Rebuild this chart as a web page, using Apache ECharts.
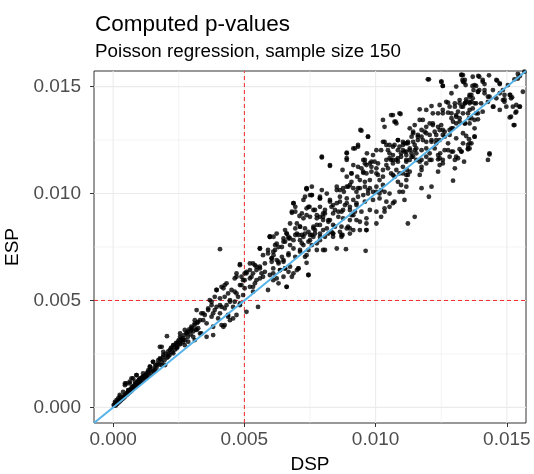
<!DOCTYPE html>
<html>
<head>
<meta charset="utf-8">
<script src="https://cdn.jsdelivr.net/npm/echarts@6/dist/echarts.min.js"></script>
<style>
  html, body { margin: 0; padding: 0; background: #ffffff; }
  #chart { width: 534px; height: 474px; }
</style>
</head>
<body>
<div id="chart"></div>
<script>
// DSP / ESP p-value pairs, [DSP, ESP]
const lowerCloud = [
  [0.00005,0.00008],[0.00008,0.00012],[0.0001,0.00009],[0.00012,0.00018],[0.00015,0.00016],[0.00018,0.00025],[0.0002,0.00022],[0.00022,0.0003],[0.00025,0.00027],[0.00027,0.00036],
  [0.0003,0.00033],[0.00032,0.00041],[0.00035,0.00039],[0.00037,0.00047],[0.0004,0.00044],[0.00042,0.00055],[0.00045,0.0005],[0.00048,0.00061],[0.0005,0.00057],[0.00052,0.00068],
  [0.00055,0.00062],[0.00058,0.00074],[0.0006,0.00069],[0.00062,0.0008],[0.00065,0.00072],[0.00068,0.00088],[0.0007,0.00079],[0.00072,0.00095],[0.00075,0.00086],[0.00078,0.00099],
  [0.0008,0.00093],[0.00083,0.00108],[0.00085,0.00097],[0.00088,0.00112],[0.0009,0.00104],[0.00093,0.00121],[0.00095,0.0011],[0.00098,0.00128],[0.001,0.00116],[0.00103,0.00133],
  [0.00106,0.00122],[0.0011,0.0014],[0.00113,0.00129],[0.00117,0.00147],[0.0012,0.00136],[0.00125,0.00152],[0.00128,0.00142],[0.00132,0.00165],[0.00136,0.0015],[0.0014,0.00172],
  [0.00145,0.0016],[0.0015,0.0018],[0.00155,0.00168],[0.0016,0.00195],[0.00165,0.00185],[0.0017,0.00205],[0.00175,0.002],[0.0018,0.00225],[0.00185,0.0021],[0.0019,0.00235],
  [0.00195,0.0022],[0.002,0.0025],[0.00205,0.00232],[0.0021,0.00262],[0.00215,0.00245],[0.0022,0.00278],[0.00225,0.00258],[0.0023,0.0029],[0.00235,0.0027],[0.0024,0.00302],
  [0.00245,0.00282],[0.0025,0.00315],[0.00255,0.00295],[0.0026,0.00322],[0.00265,0.00305],[0.0027,0.00338],[0.00275,0.00315],[0.0028,0.0035],[0.00285,0.0033],[0.0029,0.00365],
  [0.00295,0.00342],[0.003,0.00372],[0.00305,0.00355],[0.0031,0.00385],[0.00315,0.00365],[0.0032,0.00395],
  [0.00205,0.00333],[0.00255,0.00346],[0.00264,0.00315],[0.00242,0.00299],[0.00273,0.00291],[0.00223,0.00276],[0.00178,0.00283],[0.00191,0.00245],[0.0021,0.00237],[0.00172,0.00221],
  [0.00152,0.00213],[0.0014,0.0019],[0.00159,0.00174],[0.00185,0.00198],[0.00127,0.00159],[0.00089,0.00151],[0.00101,0.00136],[0.0007,0.00136],[0.00045,0.00112],[0.00063,0.00112],
  [0.00076,0.00096],[0.00058,0.00081],[0.00038,0.00073],[0.00025,0.00058],[0.00019,0.00042],[0.00007,0.00026],[0.00002,0.00011],[0.0005,0.00058],[0.00083,0.0012],[0.00114,0.00143],
  [0.00198,0.00198],[0.00255,0.0033],[0.00267,0.00315],[0.00248,0.00307],[0.00229,0.00291],[0.00242,0.00276],[0.00216,0.00268],[0.00185,0.00283],[0.00191,0.0026],[0.0021,0.00245],
  [0.00229,0.00253],[0.00178,0.00229],[0.00152,0.00213],[0.00165,0.00198],[0.0014,0.0019],[0.00134,0.00174],[0.00114,0.00159],[0.00089,0.00151],[0.00076,0.00136],[0.0005,0.00112],
  [0.00045,0.00104],[0.00063,0.0012],[0.00058,0.00081],[0.00025,0.0005],[0.00013,0.00034],[0.00007,0.00019],[0.00101,0.0012],[0.00127,0.00143],[0.00273,0.00362],[0.00286,0.00354]
];

const middleCloud = [
  [0.00407,0.0074],[0.00597,0.00798],[0.00559,0.00743],[0.00617,0.00759],[0.0059,0.0072],[0.00604,0.00697],[0.00623,0.00689],[0.00578,0.00673],[0.00559,0.00658],[0.00565,0.00627],
  [0.00546,0.00642],[0.00533,0.00673],[0.00521,0.00642],[0.00483,0.00665],[0.00508,0.00627],[0.00527,0.00611],[0.00546,0.00595],[0.00571,0.00611],[0.0059,0.00549],[0.0061,0.00627],
  [0.0063,0.0058],[0.0047,0.00627],[0.00463,0.00603],[0.00495,0.00595],[0.00483,0.00572],[0.00501,0.00557],[0.00521,0.00564],[0.00533,0.00541],[0.00495,0.00525],[0.0047,0.00533],
  [0.00451,0.00549],[0.00432,0.0058],[0.0042,0.00557],[0.00394,0.00549],[0.00387,0.00517],[0.00407,0.0051],[0.00425,0.00517],[0.00445,0.00502],[0.00463,0.00494],[0.00483,0.00478],
  [0.00432,0.00478],[0.00413,0.0047],[0.00394,0.0047],[0.00375,0.00478],[0.00368,0.00502],[0.00362,0.00455],[0.00381,0.0044],[0.00407,0.0044],[0.00438,0.00424],[0.00457,0.00416],
  [0.00425,0.00385],[0.0042,0.00377],[0.00381,0.00338],[0.00349,0.00432],[0.00336,0.0044],[0.00318,0.00455],[0.00343,0.00408],[0.00324,0.004],[0.00311,0.00408],[0.00298,0.00377],
  [0.00318,0.00362],[0.00331,0.00346],[0.00305,0.0033],
  [0.00483,0.0067],[0.00546,0.00658],[0.0047,0.00611],[0.00501,0.00627],[0.00521,0.00603],[0.00425,0.00572],[0.00413,0.00564],[0.00394,0.00549],[0.00438,0.00533],[0.00463,0.00541],
  [0.00489,0.00572],[0.00533,0.00564],[0.00476,0.00517],[0.00445,0.00494],[0.00375,0.00494],[0.00407,0.00478],[0.00425,0.00463],[0.00457,0.0047],[0.00483,0.00486],[0.00387,0.00455],
  [0.00362,0.00463],[0.00343,0.0044],[0.00375,0.00424],[0.004,0.00416],[0.00438,0.00432],[0.00445,0.00408],[0.00413,0.00385],[0.00381,0.00377],[0.00356,0.00393],[0.00331,0.00408],
  [0.00311,0.00393],[0.00324,0.0037],[0.00298,0.00362],[0.0028,0.00346],[0.00336,0.00346],[0.00356,0.0033],[0.00267,0.00323],[0.00255,0.00299],[0.00286,0.00307],[0.00311,0.00315],
  [0.00242,0.00283],[0.00552,0.0047],[0.00508,0.00447],[0.0047,0.00432],
  [0.00737,0.0102],[0.00757,0.00993],[0.00725,0.0097],[0.00788,0.00977],[0.00687,0.00955],[0.00694,0.00915],[0.00681,0.0091],[0.00744,0.00938],[0.00737,0.00899],[0.0071,0.00895],
  [0.008,0.00907],[0.00788,0.00891],[0.0082,0.00876],[0.00776,0.00853],[0.00712,0.00845],[0.00597,0.00798],[0.00661,0.00813],[0.00668,0.0079],[0.00687,0.00782],[0.00706,0.00806],
  [0.00731,0.00813],[0.00757,0.00806],[0.00769,0.00829],[0.00744,0.00775],[0.00719,0.00767],[0.00674,0.00759],[0.00649,0.00775],[0.0063,0.0075],[0.0061,0.00728],[0.0059,0.00736],
  [0.00559,0.00743],[0.00571,0.00712],[0.00604,0.00697],[0.0063,0.00681],[0.00649,0.00689],[0.00668,0.00712],[0.00694,0.00704],[0.00712,0.00728],[0.00737,0.00712],[0.00706,0.0065],
  [0.00655,0.0065],[0.00636,0.00642],[0.0061,0.0065],[0.00578,0.00634],[0.00559,0.0065],[0.0054,0.00665],[0.00521,0.00673],[0.00533,0.00627],[0.00508,0.00634],[0.00559,0.00603],
  [0.0054,0.0058],[0.00489,0.00611],[0.00501,0.00595],[0.00661,0.00564],[0.00744,0.00619],[0.00807,0.00736],[0.0061,0.00595],[0.00597,0.00619],
  [0.00623,0.00766],[0.00643,0.0075],[0.00655,0.00775],[0.00611,0.00712],[0.00604,0.00681],[0.0063,0.00673],[0.00649,0.00681],[0.00636,0.00642],[0.00655,0.0065],[0.00674,0.00658],
  [0.00668,0.00634],[0.00687,0.00627],[0.007,0.00642],[0.00706,0.0065],[0.00681,0.00611],[0.00649,0.00611],[0.00623,0.00603],[0.00744,0.00619],[0.00661,0.00564],[0.00737,0.00676],
  [0.00731,0.00704],[0.00744,0.00736],[0.00757,0.00759],[0.00763,0.00798],[0.008,0.00736],[0.00807,0.00798],[0.00838,0.00813],[0.00852,0.00743],[0.00887,0.0074],[0.00874,0.00806],
  [0.00962,0.00732],[0.00674,0.0079],[0.00694,0.00806],[0.00712,0.00782],[0.00725,0.00759],[0.00712,0.00736],[0.00687,0.00743],[0.00668,0.0072],[0.00643,0.00704],[0.00617,0.00736],
  [0.00776,0.00767],[0.00788,0.00782],[0.00776,0.00736],[0.0075,0.00782]
];

const upperCloud = [
  [0.00946,0.01294],[0.00971,0.01266],[0.01034,0.01242],[0.01053,0.01227],[0.01085,0.0125],[0.01117,0.01235],[0.00933,0.01227],[0.00915,0.01211],[0.0089,0.01191],[0.00795,0.01172],
  [0.00826,0.01133],[0.0089,0.01165],[0.00953,0.01157],[0.00959,0.01141],[0.00984,0.01149],[0.01009,0.01141],[0.01059,0.01157],[0.01085,0.01149],[0.01097,0.01188],[0.01117,0.0118],
  [0.01041,0.01133],[0.00984,0.01125],[0.00908,0.01094],[0.0089,0.01079],[0.00953,0.01097],[0.01003,0.01094],[0.01028,0.01079],[0.01066,0.01087],[0.01091,0.01094],[0.01117,0.01087],
  [0.00896,0.01032],[0.00876,0.01025],[0.00852,0.01016],[0.00927,0.01008],[0.0094,0.01025],[0.00971,0.01016],[0.01003,0.01008],[0.01021,0.01016],[0.01053,0.01],[0.01091,0.01008],
  [0.01117,0.01032],[0.0111,0.0097],[0.0075,0.00993],[0.00788,0.00977],[0.00826,0.00962],[0.00838,0.00946],[0.00864,0.00962],[0.0089,0.00955],[0.00927,0.00946],[0.00959,0.00962],
  [0.0099,0.0097],[0.01015,0.00977],[0.01041,0.00962],[0.01072,0.00962],[0.00769,0.00923],[0.00807,0.00907],[0.00845,0.00923],[0.0087,0.00915],[0.00902,0.00923],[0.00915,0.00899],
  [0.00946,0.00915],[0.00978,0.00923],[0.01034,0.00931],[0.01053,0.00938],[0.00776,0.00884],[0.008,0.00876],[0.00826,0.00876],[0.00876,0.00884],[0.00902,0.00876],[0.0094,0.00868],
  [0.00965,0.00884],[0.00763,0.00845],[0.00814,0.00837],[0.00845,0.00845],[0.0089,0.00837],[0.00915,0.00829],[0.00965,0.00829],[0.01003,0.0086],[0.00788,0.00813],[0.00838,0.00813],
  [0.0087,0.00806],[0.00902,0.00837],
  [0.01034,0.01312],[0.01028,0.01344],[0.01066,0.01367],[0.01076,0.01336],[0.01095,0.01372],[0.00942,0.01297],[0.00971,0.01266],[0.00933,0.01219],[0.00921,0.01211],[0.0089,0.01188],
  [0.00967,0.01188],[0.00795,0.01169],[0.00826,0.01129],[0.0089,0.01157],[0.00959,0.01157],[0.00965,0.01133],[0.00978,0.01141],[0.00996,0.01149],[0.01003,0.01118],[0.00984,0.01102],
  [0.00965,0.01094],[0.00953,0.01102],[0.0093,0.01079],[0.00908,0.01094],[0.00908,0.01055],[0.0094,0.01063],[0.00959,0.01055],[0.00978,0.01063],[0.01009,0.01087],[0.01015,0.01063],
  [0.01028,0.0104],[0.01003,0.01032],[0.00978,0.01025],[0.00959,0.01032],[0.00933,0.01025],[0.00915,0.01025],[0.00902,0.0104],[0.0089,0.01032],[0.00879,0.01008],[0.00864,0.01016],
  [0.00852,0.01032],[0.00864,0.00985],[0.0089,0.00977],[0.00915,0.0097],[0.00933,0.00985],[0.00953,0.00993],[0.00971,0.01],[0.0099,0.01008],[0.01015,0.01],[0.01034,0.01008],
  [0.00927,0.00955],[0.00902,0.00938],[0.00883,0.00946],[0.00852,0.00955],[0.00832,0.00938],[0.00826,0.0097],[0.00814,0.01],[0.00788,0.00985],[0.00788,0.00938],[0.00807,0.00923],
  [0.00838,0.00907],[0.00858,0.00915],[0.00876,0.00923],[0.00858,0.00891],[0.00908,0.00899],[0.00921,0.00915],[0.00927,0.00876],[0.00965,0.0086],[0.0094,0.00829],[0.00895,0.00845],
  [0.0087,0.00845],[0.00838,0.00853],[0.0082,0.00868],[0.008,0.00891],[0.00776,0.00899],[0.00763,0.00923],[0.00737,0.00931],[0.0075,0.00891],[0.00725,0.00884],[0.00719,0.00907],
  [0.007,0.0086],[0.00712,0.00845],[0.00731,0.00837],[0.00763,0.00837],[0.00788,0.00853],[0.008,0.00829],[0.00832,0.00821],[0.00864,0.00821],[0.00681,0.00915],[0.00687,0.00955],
  [0.00694,0.00938],[0.00731,0.00985],[0.00757,0.00993],[0.00737,0.01025],[0.00748,0.00938],[0.007,0.00813],[0.00661,0.00813],[0.00668,0.00798],[0.00655,0.00829],[0.00611,0.00798],
  [0.00725,0.00798],[0.0075,0.00806],
  [0.00874,0.0111],[0.00915,0.01133],[0.00933,0.01125],[0.00946,0.01118],[0.01003,0.01203],[0.0099,0.0118],[0.01021,0.01203],[0.01041,0.01227],[0.01028,0.01242],[0.01047,0.01203],
  [0.01053,0.01188],[0.01066,0.0118],[0.01085,0.01203],[0.01072,0.01227],[0.01104,0.01227],[0.0113,0.01211],[0.01155,0.01211],[0.01175,0.01157],[0.01193,0.01141],
  [0.00597,0.00798],[0.00694,0.00837],[0.00674,0.0086],[0.00623,0.00813],[0.00649,0.0079],[0.00719,0.00806],[0.00744,0.00821],[0.00769,0.00813],[0.00788,0.00798],[0.0082,0.00813],
  [0.00838,0.00798],[0.0087,0.00798],[0.00902,0.00813],[0.00965,0.00829],[0.01021,0.00891],[0.01034,0.00915],[0.01003,0.00915],[0.01066,0.00955],[0.01104,0.01008],[0.00795,0.01016],
  [0.00757,0.01032],[0.00737,0.01023]
];

const topCloud = [
  [0.01203,0.01534],[0.0125,0.01523],[0.01256,0.01503],[0.01327,0.01554],[0.01333,0.01523],[0.01343,0.01507],[0.0137,0.01546],[0.01383,0.01503],[0.0139,0.01476],[0.01365,0.01461],
  [0.01358,0.01429],[0.01377,0.01422],[0.0134,0.01422],[0.0132,0.01437],[0.01302,0.01422],[0.01276,0.01425],[0.01244,0.01414],[0.01213,0.01409],[0.01193,0.01391],[0.01168,0.01394],
  [0.01256,0.01375],[0.01276,0.01378],[0.01314,0.01383],[0.01352,0.01375],[0.01307,0.01359],[0.01289,0.01352],[0.01091,0.01375],[0.01059,0.01367],[0.01072,0.01336],[0.01079,0.01328],
  [0.01168,0.01344],[0.0113,0.01305],[0.01143,0.01282],[0.01187,0.01289],[0.01206,0.01328],[0.01218,0.01328],[0.01244,0.01297],[0.01225,0.01289],[0.01263,0.01289],[0.01282,0.01297],
  [0.01295,0.01305],[0.01282,0.01274],[0.01256,0.01274],[0.01231,0.0125],[0.01213,0.01242],[0.0118,0.0125],[0.01161,0.01266],[0.01143,0.01242],[0.01123,0.01235],[0.01104,0.01242],
  [0.01091,0.01219],[0.0111,0.01196],[0.0113,0.01203],[0.01149,0.01203],[0.01155,0.01188],[0.01137,0.01172],[0.01117,0.01157],[0.01085,0.01165],[0.01066,0.01157],[0.01104,0.01125],
  [0.01079,0.0111],[0.0113,0.01102],[0.01175,0.0111],[0.01168,0.01149],[0.01206,0.01157],[0.01244,0.01165],[0.01256,0.01141],[0.01238,0.01102],[0.01238,0.0118],[0.01276,0.01203],
  [0.01295,0.01196],[0.01327,0.01196],[0.01352,0.01211],[0.01358,0.01235],[0.01314,0.01165],[0.01302,0.01118],[0.0134,0.01328],[0.01377,0.01344],[0.01377,0.01266],
  [0.01333,0.01554],[0.0134,0.01531],[0.01395,0.01546],[0.01408,0.01523],[0.01377,0.01507],[0.01395,0.01484],[0.01415,0.01484],[0.0146,0.01531],[0.01473,0.01515],[0.01447,0.01484],
  [0.01491,0.01461],[0.01511,0.01461],[0.01516,0.01445],[0.01542,0.01538],[0.01567,0.0157],[0.01358,0.01453],[0.0137,0.01445],[0.01365,0.01429],[0.01345,0.01429],[0.0132,0.01422],
  [0.01333,0.01406],[0.0137,0.01398],[0.01402,0.01422],[0.01447,0.01406],[0.01428,0.01453],[0.01491,0.01429],[0.01523,0.01406],[0.01548,0.01406],[0.01536,0.01383],[0.01516,0.01359],
  [0.01529,0.0132],[0.0139,0.01375],[0.01365,0.01352],[0.0132,0.01352],[0.01333,0.01282],[0.01377,0.01266],[0.01352,0.01227],[0.01358,0.01211],[0.01434,0.01188],
  [0.01199,0.01534],[0.01251,0.01523],[0.01256,0.01503],[0.01327,0.01556],[0.01331,0.01531],[0.01337,0.0152],[0.01391,0.0155],[0.01408,0.01531],[0.01432,0.01553],[0.01415,0.01512],
  [0.01369,0.01503],[0.01373,0.01484],[0.01463,0.01528],[0.01473,0.01512],[0.01504,0.01507],[0.01485,0.01484],[0.01542,0.01559],[0.0155,0.0155],[0.01529,0.01534],[0.01561,0.01476],
  [0.01513,0.01461],[0.0152,0.0145],[0.01491,0.0144],[0.01536,0.01414],[0.0155,0.01406],[0.01533,0.01378],[0.01511,0.01356],[0.01526,0.0132],[0.01434,0.01183],[0.01428,0.01157],
  [0.01358,0.01461],[0.01345,0.0144],[0.0139,0.01476],[0.01383,0.01422],[0.01358,0.01422],[0.0134,0.01422],[0.01307,0.015],[0.01289,0.01469],[0.01269,0.01429],[0.01302,0.01406],
  [0.01282,0.01406],[0.01307,0.01367],[0.01289,0.01375],[0.01327,0.01406],[0.01333,0.01375],[0.0134,0.01328],[0.01356,0.01352],[0.01408,0.01383],[0.01428,0.01429],[0.01449,0.01406],
  [0.0139,0.01347],[0.01377,0.01305],[0.01356,0.01254],[0.01352,0.01207],[0.01337,0.01149],[0.01295,0.0106],[0.01307,0.01172],[0.01289,0.01196],[0.01302,0.01157],[0.01256,0.01157],
  [0.01238,0.0116],[0.01244,0.01133],[0.01327,0.01196],[0.0132,0.01207],[0.01333,0.01235],[0.01276,0.01235],[0.01263,0.01266],[0.01244,0.0125],[0.01225,0.01211],[0.01206,0.01188],
  [0.01193,0.01172],[0.01213,0.01157],[0.01175,0.01125],[0.01193,0.01211],[0.01175,0.01203],[0.01149,0.01227],[0.01161,0.0125],[0.01175,0.01266],[0.01137,0.01266],[0.01123,0.01242],
  [0.0111,0.01235],[0.01104,0.01203],[0.01117,0.01196],[0.01137,0.01188],[0.01143,0.01172],[0.01155,0.01157],[0.0113,0.01157],[0.01117,0.01149],[0.01085,0.0125],[0.01066,0.01219],
  [0.01097,0.01172],[0.01079,0.01157],[0.01066,0.01141],[0.01053,0.01165],[0.01041,0.01157],[0.01028,0.0111],[0.01047,0.01118],[0.01059,0.01094],[0.01072,0.01079],[0.01085,0.01055],
  [0.01097,0.0104],[0.01117,0.01063],[0.01123,0.01087],[0.01104,0.01094],[0.01119,0.0111],[0.01168,0.01087],[0.01175,0.01025],[0.01213,0.01032],[0.01203,0.00985],[0.01149,0.00891],
  [0.01123,0.0086],
  [0.01161,0.01274],[0.01143,0.01289],[0.01175,0.01297],[0.01193,0.01312],[0.0118,0.01344],[0.01218,0.0132],[0.01238,0.01312],[0.01256,0.01297],[0.0125,0.0132],[0.01289,0.01305],
  [0.01307,0.01328],[0.0132,0.01336],[0.01295,0.01336],[0.01231,0.01274],[0.01213,0.0125],[0.01231,0.01235],[0.01193,0.01242],[0.01206,0.01274],[0.01149,0.0132],[0.01193,0.01282],
  [0.01263,0.01203],[0.01246,0.01188],[0.01282,0.01172],[0.01345,0.01269],[0.01365,0.01235],[0.01307,0.01258],[0.01383,0.01375],[0.01358,0.01391],[0.01434,0.01453],[0.01415,0.01469],
  [0.01473,0.01469],[0.01485,0.01437],[0.0146,0.01445],[0.01498,0.01406],[0.01473,0.01391],[0.01358,0.01328],[0.01256,0.01391],[0.01238,0.01375],[0.01218,0.01375]
];

// axis ticks, grid positions and reference lines
const tickValues = [0, 0.005, 0.010, 0.015];
const minorGridValues = [0.0025, 0.0075, 0.0125];
const thresholdValue = 0.005;
const axisMin = -0.00073;
const axisMax = 0.01573;

const points = lowerCloud.concat(middleCloud, upperCloud, topCloud);
const diagonal = [[axisMin, axisMin], [axisMax, axisMax]];

const font = '"Liberation Sans", Arial, Helvetica, sans-serif';
const gridColor = '#EBEBEB';

// one straight segment across the panel, as a plain line series
function segment(pts, color, width, type, z) {
  return {
    type: 'line', data: pts, symbol: 'none', showSymbol: false, silent: true, z: z,
    lineStyle: { color: color, width: width, type: type }
  };
}
function vLine(v, color, width, type, z) { return segment([[v, axisMin], [v, axisMax]], color, width, type, z); }
function hLine(v, color, width, type, z) { return segment([[axisMin, v], [axisMax, v]], color, width, type, z); }

const series = [];
minorGridValues.forEach(v => {
  series.push(vLine(v, gridColor, 0.6, 'solid', 1));
  series.push(hLine(v, gridColor, 0.6, 'solid', 1));
});
tickValues.forEach(v => {
  series.push(vLine(v, gridColor, 1.1, 'solid', 1));
  series.push(hLine(v, gridColor, 1.1, 'solid', 1));
});
series.push(vLine(thresholdValue, '#F0282D', 1, [4, 3], 2));
series.push(hLine(thresholdValue, '#F0282D', 1, [4, 3], 2));
series.push({
  type: 'scatter', data: points, symbol: 'circle', symbolSize: 4.8,
  itemStyle: { color: '#000000' }, z: 3, silent: true
});
series.push(segment(diagonal, '#56B4E9', 2, 'solid', 4));

const axisCommon = {
  type: 'value',
  min: axisMin,
  max: axisMax,
  axisLine: { show: false, onZero: false },
  axisTick: { show: true, length: 4, customValues: tickValues, lineStyle: { color: '#333333', width: 1 } },
  axisLabel: {
    customValues: tickValues,
    formatter: v => v.toFixed(3),
    color: '#4D4D4D',
    fontSize: 19,
    fontFamily: font
  },
  splitLine: { show: false },
  nameLocation: 'middle',
  nameTextStyle: { color: '#000000', fontSize: 19, fontFamily: font }
};

const chart = echarts.init(document.getElementById('chart'), null, { renderer: 'canvas' });
chart.setOption({
  animation: false,
  backgroundColor: '#ffffff',
  title: [
    { text: 'Computed p-values', left: 95, top: 13, padding: 0,
      textStyle: { fontSize: 22.5, fontWeight: 'normal', color: '#000000', fontFamily: font } },
    { text: 'Poisson regression, sample size 150', left: 95, top: 42, padding: 0,
      textStyle: { fontSize: 18.8, fontWeight: 'normal', color: '#000000', fontFamily: font } }
  ],
  grid: {
    left: 94, right: 8, top: 71, bottom: 51,
    outerBoundsMode: 'none',
    containLabel: false,
    show: true, borderColor: '#333333', borderWidth: 1, backgroundColor: '#ffffff'
  },
  xAxis: Object.assign({}, axisCommon, {
    name: 'DSP', nameGap: 32,
    axisLabel: Object.assign({}, axisCommon.axisLabel, { margin: 7 })
  }),
  yAxis: Object.assign({}, axisCommon, {
    name: 'ESP', nameGap: 59,
    axisLabel: Object.assign({}, axisCommon.axisLabel, { margin: 13 })
  }),
  series: series
});
</script>
</body>
</html>
